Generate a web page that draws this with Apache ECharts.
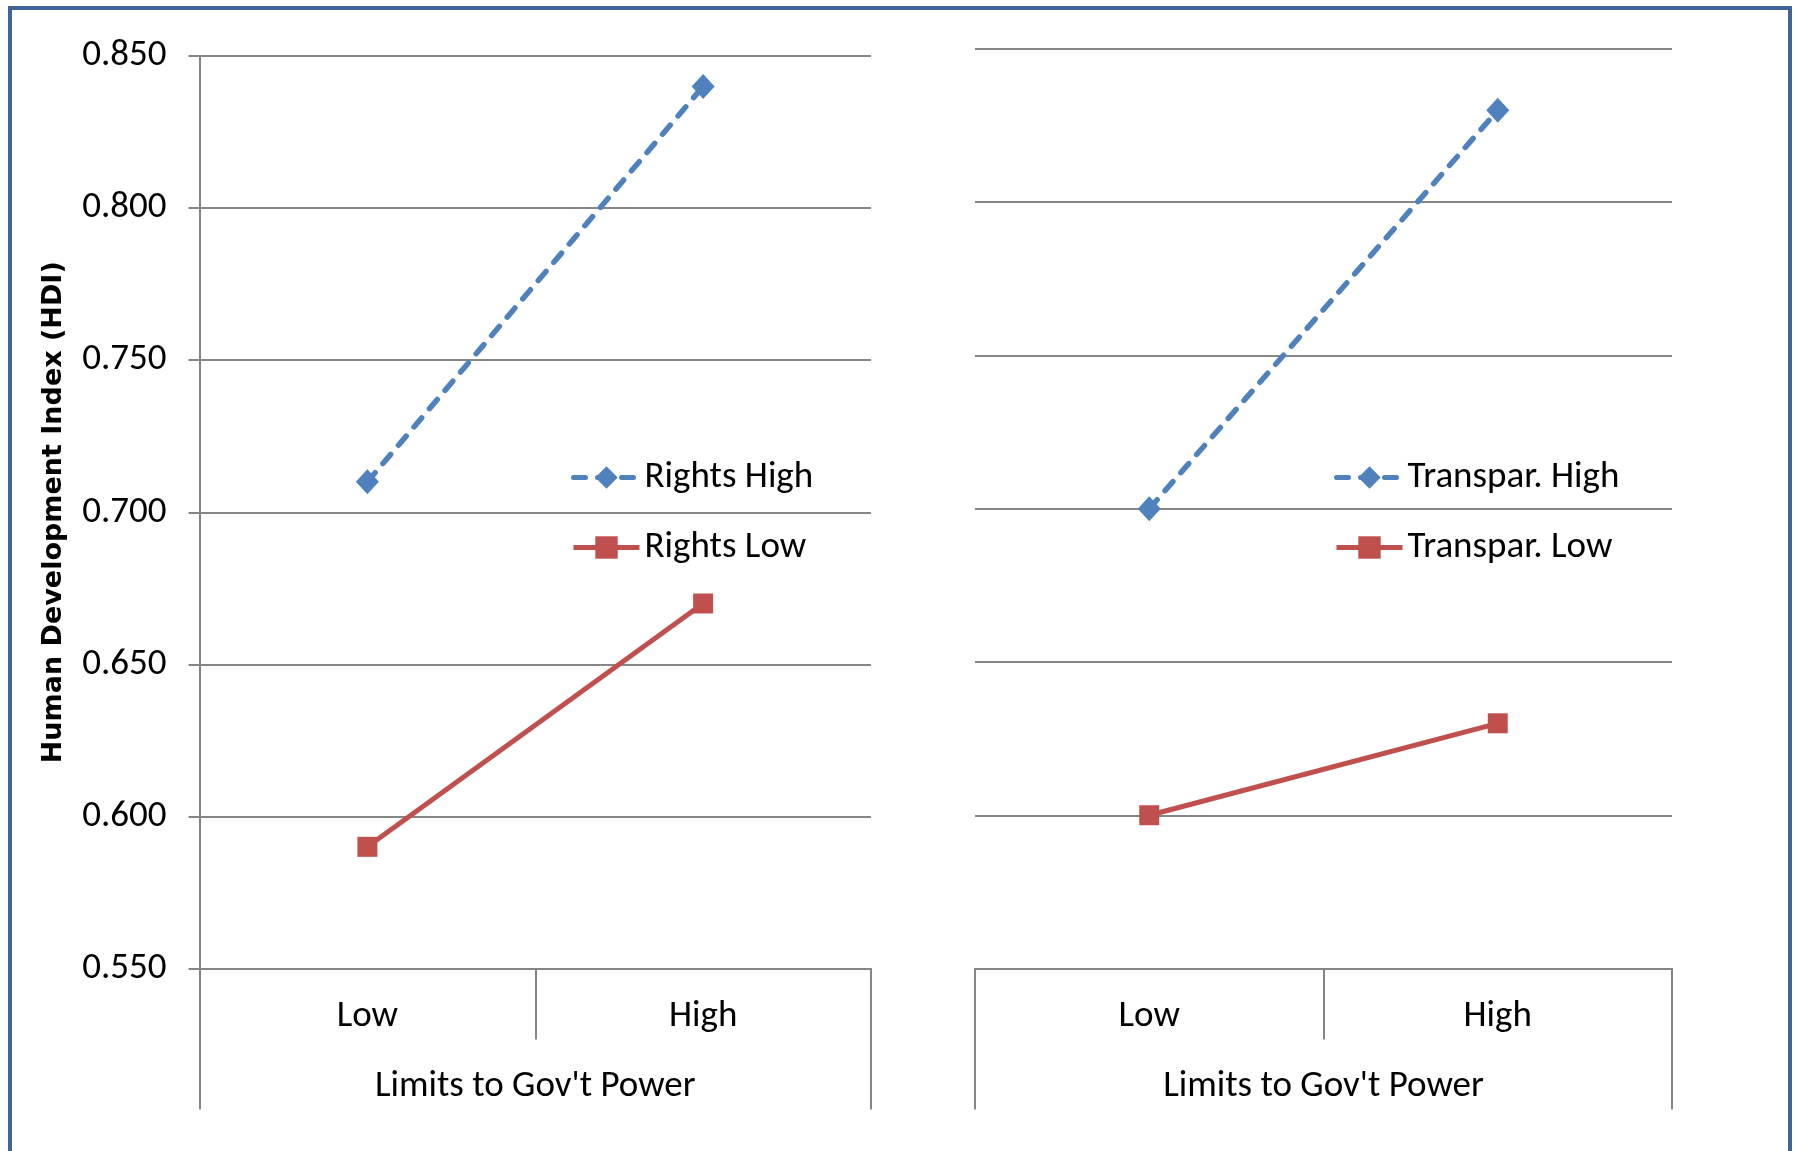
<!DOCTYPE html>
<html>
<head>
<meta charset="utf-8">
<script src="https://cdn.jsdelivr.net/npm/echarts@6/dist/echarts.min.js"></script>
<style>
  html, body { margin: 0; padding: 0; background: #ffffff; }
  #main { width: 1797px; height: 1151px; }
</style>
</head>
<body>
<div id="main"></div>
<script>
// data
var categories = ['Low', 'High'];
var groupLabel = ["Limits to Gov't Power"];
var rightsHigh = [0.710, 0.840];
var rightsLow = [0.590, 0.670];
var transparHigh = [0.700, 0.830];
var transparLow = [0.600, 0.630];
var yMin = 0.55, yMax = 0.85, yStep = 0.05;

var FONT = "Carlito, 'Liberation Sans Narrow', 'Open Sans', sans-serif";
var GRID_COLOR = '#868686';
var BLUE = '#4F81BD';
var RED = '#C0504D';
var DASH = [12, 12];

var chart = echarts.init(document.getElementById('main'));

function catAxis(gridIndex) {
    return {
        type: 'category', gridIndex: gridIndex, data: categories,
        boundaryGap: true,
        axisLine: { show: true, lineStyle: { color: GRID_COLOR, width: 2 } },
        axisTick: { show: true, alignWithLabel: false, length: 71, lineStyle: { color: GRID_COLOR, width: 2 } },
        axisLabel: { color: '#000', fontFamily: FONT, fontSize: 37, margin: 30 }
    };
}
function groupAxis(gridIndex) {
    return {
        type: 'category', gridIndex: gridIndex, data: groupLabel,
        position: 'bottom', offset: 71, boundaryGap: true,
        axisLine: { show: false },
        axisTick: { show: true, alignWithLabel: false, length: 70, lineStyle: { color: GRID_COLOR, width: 2 } },
        axisLabel: { color: '#000', fontFamily: FONT, fontSize: 37, margin: 29 }
    };
}
function valAxis(gridIndex, withLabels) {
    return {
        type: 'value', gridIndex: gridIndex, min: yMin, max: yMax, interval: yStep,
        name: withLabels ? 'Human Development Index (HDI)' : '',
        nameLocation: 'middle', nameGap: 132,
        nameTextStyle: { fontFamily: "'DejaVu Sans', sans-serif", fontWeight: 'bold', fontSize: 27, color: '#000' },
        axisLine: { show: withLabels, lineStyle: { color: GRID_COLOR, width: 2 } },
        axisTick: { show: withLabels, length: 11, lineStyle: { color: GRID_COLOR, width: 2 } },
        axisLabel: {
            show: withLabels, color: '#000', fontFamily: FONT, fontSize: 37, margin: 33,
            formatter: function (v) { return v.toFixed(3); }
        },
        splitLine: { show: true, lineStyle: { color: GRID_COLOR, width: 2 } }
    };
}
function lineSeries(name, data, idx, dashed) {
    return {
        name: name, type: 'line', xAxisIndex: idx * 2, yAxisIndex: idx, data: data,
        symbol: dashed ? 'diamond' : 'rect',
        symbolSize: dashed ? [23, 25] : 20,
        color: dashed ? BLUE : RED,
        lineStyle: { width: dashed ? 5.5 : 5, color: dashed ? BLUE : RED, type: dashed ? DASH : 'solid', cap: dashed ? 'round' : 'butt' },
        itemStyle: { color: dashed ? BLUE : RED },
        z: dashed ? 3 : 2
    };
}
function legend(names, left) {
    return {
        data: names, orient: 'vertical', left: left, top: 454,
        itemWidth: 66, itemHeight: 28, itemGap: 33,
        lineStyle: { width: 5 },
        textStyle: { fontFamily: FONT, fontSize: 37, color: '#000' }
    };
}

var option = {
    backgroundColor: '#ffffff',
    animation: false,
    grid: [
        { left: 199.5, right: 926, top: 56, bottom: 182.5 },
        { left: 975, right: 125, top: 49, bottom: 182.5 }
    ],
    xAxis: [catAxis(0), groupAxis(0), catAxis(1), groupAxis(1)],
    yAxis: [valAxis(0, true), valAxis(1, false)],
    legend: [
        legend(['Rights High', 'Rights Low'], 566),
        legend(['Transpar. High', 'Transpar. Low'], 1329)
    ],
    series: [
        lineSeries('Rights High', rightsHigh, 0, true),
        lineSeries('Rights Low', rightsLow, 0, false),
        lineSeries('Transpar. High', transparHigh, 1, true),
        lineSeries('Transpar. Low', transparLow, 1, false)
    ],
    graphic: [{
        type: 'rect', silent: true,
        shape: { x: 10, y: 8, width: 1780, height: 1200 },
        style: { fill: 'none', stroke: '#3E6595', lineWidth: 4 }
    }]
};

chart.setOption(option);
</script>
</body>
</html>
